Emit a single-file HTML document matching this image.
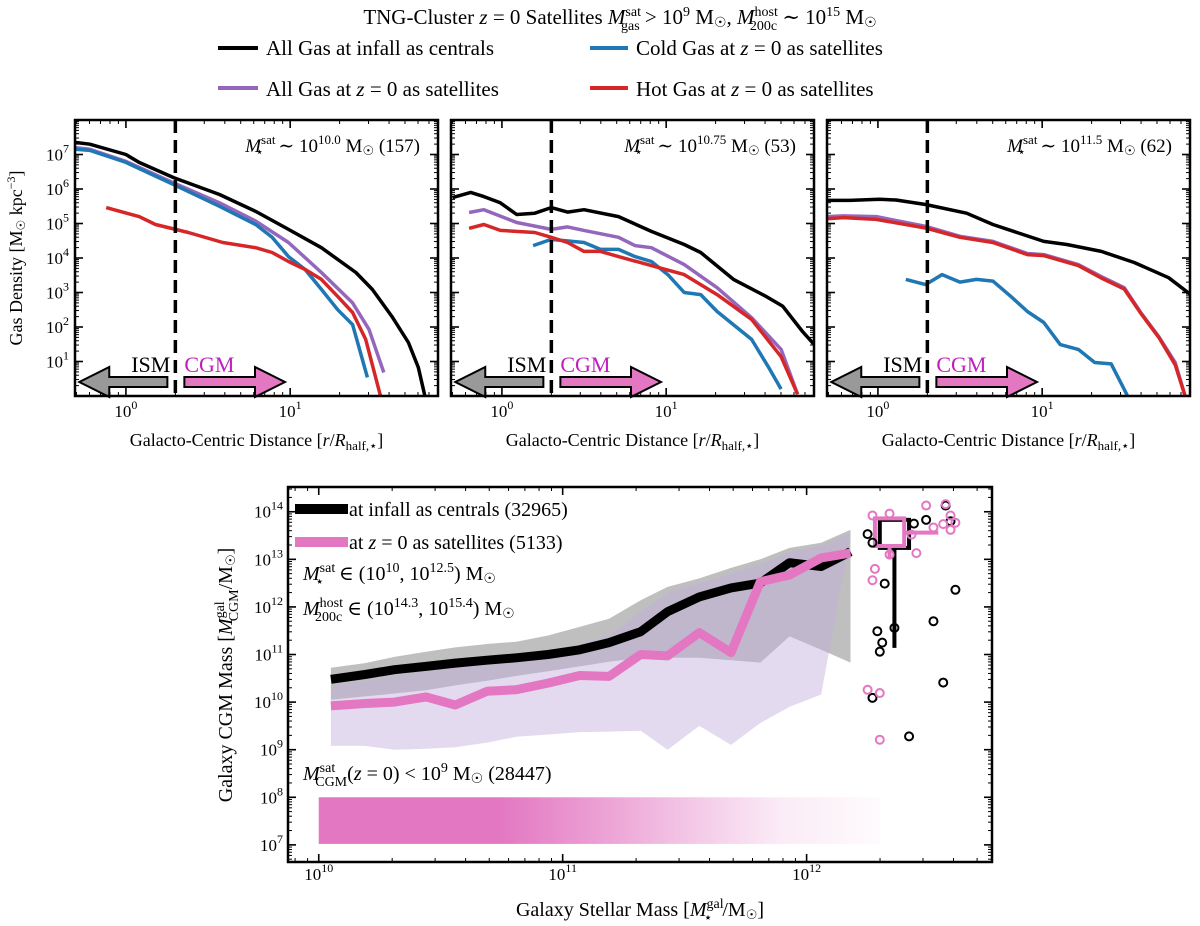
<!DOCTYPE html>
<html><head><meta charset="utf-8">
<style>
html,body{margin:0;padding:0;background:#fff;}
svg{display:block;font-family:"Liberation Serif","DejaVu Serif",serif;}
</style></head>
<body>
<svg id="fig" xmlns="http://www.w3.org/2000/svg" width="1200" height="926" viewBox="0 0 1200 926">
<rect x="0" y="0" width="1200" height="926" fill="#fff"/>
<text x="620" y="24" font-size="21" text-anchor="middle">TNG-Cluster <tspan font-style="italic">z</tspan> = 0 Satellites <tspan font-style="italic">M</tspan><tspan dy="-8" font-size="14">sat</tspan><tspan dx="-20" dy="14" font-size="14">gas</tspan><tspan dy="-6"> &gt; 10</tspan><tspan dy="-8" font-size="14">9</tspan><tspan dy="8"> M</tspan><tspan font-size="14" dy="3">☉</tspan><tspan dy="-3">,  </tspan><tspan font-style="italic">M</tspan><tspan dy="-8" font-size="14">host</tspan><tspan dx="-28" dy="14" font-size="14">200c</tspan><tspan dy="-6"> ∼ 10</tspan><tspan dy="-8" font-size="14">15</tspan><tspan dy="8"> M</tspan><tspan font-size="14" dy="3">☉</tspan></text>
<g>
<line x1="218" y1="48" x2="258" y2="48" stroke="#000" stroke-width="4"/>
<text x="266" y="55" font-size="21">All Gas at infall as centrals</text>
<line x1="590" y1="48" x2="628" y2="48" stroke="#1f77b4" stroke-width="4"/>
<text x="636" y="55" font-size="21">Cold Gas at <tspan font-style="italic">z</tspan> = 0 as satellites</text>
<line x1="218" y1="88" x2="258" y2="88" stroke="#9467bd" stroke-width="4"/>
<text x="266" y="96" font-size="21">All Gas at <tspan font-style="italic">z</tspan> = 0 as satellites</text>
<line x1="590" y1="88" x2="628" y2="88" stroke="#d62728" stroke-width="4"/>
<text x="636" y="96" font-size="21">Hot Gas at <tspan font-style="italic">z</tspan> = 0 as satellites</text>
</g>
<text transform="translate(22,258) rotate(-90)" font-size="18" text-anchor="middle">Gas Density [M<tspan font-size="12" dy="3">☉</tspan><tspan dy="-3"> kpc</tspan><tspan dy="-7" font-size="12">−3</tspan><tspan dy="7">]</tspan></text>
<text transform="translate(232,675) rotate(-90)" font-size="20" text-anchor="middle">Galaxy CGM Mass [<tspan font-style="italic">M</tspan><tspan dy="-8" font-size="14">gal</tspan><tspan dx="-20" dy="14" font-size="14">CGM</tspan><tspan dy="-6">/M</tspan><tspan font-size="13" dy="3">☉</tspan><tspan dy="-3">]</tspan></text>
<text x="640" y="916" font-size="20" text-anchor="middle">Galaxy Stellar Mass [<tspan font-style="italic">M</tspan><tspan dy="-8" font-size="14">gal</tspan><tspan dx="-20" dy="14" font-size="14">⋆</tspan><tspan dx="10" dy="-6">/M</tspan><tspan font-size="13" dy="3">☉</tspan><tspan dy="-3">]</tspan></text>
<g id="topg"></g>
<g id="botg"></g>
</svg>
<script>
// ---------- TOP PANEL DATA (log10 r/R_half, log10 density) ----------
const p1BlackLogR=[-0.31,-0.22,0,0.08,0.29,0.57,0.79,0.99,1.19,1.4,1.5,1.62,1.72,1.78,1.82];
const p1BlackLogRho=[7.35,7.3,7.0,6.77,6.33,5.84,5.35,4.83,4.3,3.58,3.09,2.3,1.55,0.83,0.0];
const p1PurpleLogR=[-0.31,-0.22,0,0.29,0.57,0.79,0.99,1.19,1.38,1.48,1.57];
const p1PurpleLogRho=[7.2,7.15,6.8,6.18,5.6,5.07,4.45,3.58,2.7,1.93,0.68];
const p1BlueLogR=[-0.31,-0.22,0,0.29,0.57,0.79,0.89,0.99,1.09,1.19,1.29,1.38,1.47];
const p1BlueLogRho=[7.15,7.12,6.77,6.13,5.5,4.97,4.6,4.04,3.67,3.09,2.5,2.07,0.54];
const p1RedLogR=[-0.12,0.08,0.18,0.38,0.59,0.79,0.89,0.99,1.09,1.19,1.29,1.38,1.46,1.55];
const p1RedLogRho=[5.46,5.2,4.97,4.74,4.45,4.3,4.16,3.9,3.67,3.38,2.88,2.42,1.64,0];

const p2BlackLogR=[-0.3,-0.19,-0.11,-0.01,0.09,0.2,0.3,0.4,0.5,0.71,0.91,1.11,1.21,1.41,1.61,1.71,1.83,1.9];
const p2BlackLogRho=[5.75,5.9,5.78,5.6,5.26,5.3,5.46,5.33,5.4,5.2,4.77,4.39,4.16,3.38,2.88,2.6,1.87,1.5];
const p2PurpleLogR=[-0.2,-0.11,0.09,0.3,0.4,0.5,0.71,0.81,0.91,1.11,1.31,1.52,1.7,1.8];
const p2PurpleLogRho=[5.32,5.4,5.03,4.83,4.9,4.8,4.6,4.36,4.3,3.81,3.14,2.27,1.35,0.05];
const p2BlueLogR=[0.19,0.3,0.5,0.6,0.71,0.81,0.91,1.01,1.11,1.21,1.31,1.52,1.62,1.7];
const p2BlueLogRho=[4.36,4.54,4.45,4.25,4.25,4.04,3.9,3.52,3.0,2.94,2.45,1.64,0.86,0.2];
const p2RedLogR=[-0.2,-0.11,-0.01,0.2,0.3,0.4,0.5,0.6,0.71,0.91,1.11,1.31,1.52,1.7,1.8];
const p2RedLogRho=[4.86,4.97,4.8,4.74,4.6,4.45,4.19,4.19,4.04,3.78,3.52,2.94,2.22,1.14,0.05];

const p3BlackLogR=[-0.31,-0.17,0.01,0.11,0.29,0.54,0.7,1.01,1.15,1.36,1.56,1.77,1.92];
const p3BlackLogRho=[5.67,5.67,5.7,5.68,5.55,5.3,4.97,4.48,4.39,4.19,3.87,3.43,2.88];
const p3PurpleLogR=[-0.31,-0.21,-0.01,0.29,0.5,0.7,0.91,1.01,1.22,1.36,1.5,1.6,1.71,1.81,1.87];
const p3PurpleLogRho=[5.2,5.22,5.2,4.92,4.63,4.48,4.13,4.1,3.81,3.46,3.14,2.42,1.72,0.97,0];
const p3BlueLogR=[0.17,0.29,0.39,0.5,0.6,0.7,0.81,0.91,1.01,1.11,1.22,1.32,1.42,1.52];
const p3BlueLogRho=[3.38,3.23,3.52,3.3,3.38,3.33,2.88,2.45,2.13,1.49,1.35,0.97,0.93,0];
const p3RedLogR=[-0.31,-0.21,-0.01,0.29,0.5,0.7,0.91,1.01,1.22,1.36,1.5,1.6,1.71,1.81,1.87];
const p3RedLogRho=[5.14,5.17,5.12,4.87,4.6,4.45,4.1,4.07,3.78,3.42,3.1,2.4,1.7,0.9,0];

const panelLabels=["10.0","10.75","11.5"];
const panelCounts=["157","53","62"];
const topYTicks=[1,2,3,4,5,6,7];
const topXTicks=[0,1];

// ---------- BOTTOM PANEL DATA (log10 M*, log10 M_CGM) ----------
const binLogM=[10.05,10.19,10.31,10.44,10.56,10.69,10.81,10.94,11.07,11.19,11.32,11.43,11.56,11.69,11.81,11.93,12.06,12.18];
const infallMedian=[10.48,10.58,10.68,10.75,10.82,10.88,10.93,11.0,11.1,11.25,11.48,11.9,12.21,12.4,12.5,12.93,12.85,13.16];
const z0Median=[9.92,9.97,10.0,10.11,9.94,10.23,10.26,10.4,10.56,10.54,11.0,10.97,11.46,11.04,12.53,12.67,13.03,13.13];
const infallUpper=[10.72,10.82,10.95,11.06,11.15,11.22,11.27,11.4,11.58,11.75,12.14,12.42,12.6,12.82,13.0,13.24,13.35,13.62];
const infallLower=[10.05,10.12,10.18,10.25,10.35,10.45,10.55,10.65,10.75,10.85,10.93,10.93,10.93,10.88,10.83,11.38,11.1,10.83];
const z0Upper=[10.35,10.45,10.55,10.65,10.75,10.85,10.95,11.05,11.2,11.4,11.9,12.3,12.5,12.7,12.9,13.15,13.3,13.55];
const z0Lower=[9.08,9.08,9.0,9.02,9.05,9.15,9.27,9.32,9.37,9.38,9.4,9.0,9.5,9.1,9.56,9.9,10.16,13.55];
const infallPtsLogM=[12.25,12.27,12.32,12.29,12.31,12.30,12.27,12.42,12.56,12.52,12.61,12.49,12.57,12.59,12.36,12.44];
const infallPtsLogC=[13.53,13.35,12.49,11.49,11.25,11.06,10.09,9.28,10.41,11.70,12.36,13.83,14.13,13.80,11.56,13.75];
const z0PtsLogM=[12.27,12.34,12.49,12.57,12.59,12.61,12.59,12.56,12.52,12.45,12.28,12.27,12.25,12.30,12.30,12.34,12.43];
const z0PtsLogC=[13.92,13.96,14.13,14.16,13.92,13.77,13.62,13.74,13.67,13.13,12.80,12.56,10.26,10.19,9.21,13.10,13.52];
// box summaries: [xLo, xHi, q1, q3, whiskerLo, whiskerHi]
const infallBox=[12.30,12.42,13.24,13.83,11.14,13.83];
const z0Box=[12.28,12.40,13.28,13.86,13.0,13.56];
const botXTicks=[10,11,12];
const botYTicks=[7,8,9,10,11,12,13,14];

const NS="http://www.w3.org/2000/svg";
function mk(tag,attrs,parent){const e=document.createElementNS(NS,tag);for(const k in attrs)e.setAttribute(k,attrs[k]);parent.appendChild(e);return e;}
const topG=document.getElementById('topg'), botG=document.getElementById('botg');
const defs=mk('defs',{},document.getElementById('fig'));

function logTicks(g,x0,x1,y0,y1,xd,yd,sx,sy){
  for(let d=Math.floor(xd[0]);d<=Math.ceil(xd[1]);d++){
    for(let m=1;m<10;m++){const v=d+Math.log10(m);if(v<xd[0]||v>xd[1])continue;
      const x=sx(v),L=m===1?8:4;
      const t1=mk('line',{x1:x,y1:y1,x2:x,y2:y1-L,stroke:'#000','stroke-width':m===1?1.6:1},g);
      
      
      const t2=mk('line',{x1:x,y1:y0,x2:x,y2:y0+L,stroke:'#000','stroke-width':m===1?1.6:1},g);
      
      
    }}
  for(let d=Math.floor(yd[0]);d<=Math.ceil(yd[1]);d++){
    for(let m=1;m<10;m++){const v=d+Math.log10(m);if(v<yd[0]||v>yd[1])continue;
      const y=sy(v),L=m===1?8:4;
      const t1=mk('line',{x1:x0,y1:y,x2:x0+L,y2:y,stroke:'#000','stroke-width':m===1?1.6:1},g);
      
      
      const t2=mk('line',{x1:x1,y1:y,x2:x1-L,y2:y,stroke:'#000','stroke-width':m===1?1.6:1},g);
      
      
    }}
}
function powLabel(g,x,y,exp,anchor,fs,name){
  const t=mk('text',{x:x,y:y,'font-size':fs,'text-anchor':anchor},g);
  
  
  t.appendChild(document.createTextNode('10'));
  const s=mk('tspan',{dy:-8,'font-size':Math.round(fs*0.7)},t);s.textContent=exp;
  return t;
}

// ---------- TOP PANELS ----------
const panels=[{x0:75,x1:438},{x0:451,x1:814},{x0:827,x1:1190}];
const PY0=120,PY1=396, XD=[-0.31,1.9], YD=[0,8];
const series=[
 [[p1BlackLogR,p1BlackLogRho],[p1PurpleLogR,p1PurpleLogRho],[p1BlueLogR,p1BlueLogRho],[p1RedLogR,p1RedLogRho]],
 [[p2BlackLogR,p2BlackLogRho],[p2PurpleLogR,p2PurpleLogRho],[p2BlueLogR,p2BlueLogRho],[p2RedLogR,p2RedLogRho]],
 [[p3BlackLogR,p3BlackLogRho],[p3PurpleLogR,p3PurpleLogRho],[p3BlueLogR,p3BlueLogRho],[p3RedLogR,p3RedLogRho]]];
const colors=['#000','#9467bd','#1f77b4','#d62728'];
const snames=['all-gas-infall','all-gas-z0','cold-gas-z0','hot-gas-z0'];
panels.forEach((p,i)=>{
  const g=mk('g',{},topG);
  
  
  const sx=v=>p.x0+(v-XD[0])/(XD[1]-XD[0])*(p.x1-p.x0);
  const sy=v=>PY1-(v-YD[0])/(YD[1]-YD[0])*(PY1-PY0);
  const cp=mk('clipPath',{id:'cp'+i},defs);
  mk('rect',{x:p.x0,y:PY0,width:p.x1-p.x0,height:PY1-PY0},cp);
  const lines=mk('g',{'clip-path':'url(#cp'+i+')'},g);
  series[i].forEach((s,j)=>{
    const pts=s[0].map((r,k)=>sx(r).toFixed(1)+','+sy(s[1][k]).toFixed(1)).join(' ');
    const pl=mk('polyline',{points:pts,fill:'none',stroke:colors[j],'stroke-width':3.5,'stroke-linejoin':'round'},lines);
    
    
  });
  const dx=sx(Math.log10(2));
  const dl=mk('line',{x1:dx,y1:PY0,x2:dx,y2:PY1,stroke:'#000','stroke-width':3.5,'stroke-dasharray':'13,7'},g);
  
  
  const ay=382, tipL=sx(Math.log10(0.52)), tipR=sx(Math.log10(9.3));
  const ga=mk('polygon',{points:`${dx-8},${ay-5} ${tipL+30},${ay-5} ${tipL+30},${ay-15} ${tipL},${ay} ${tipL+30},${ay+15} ${tipL+30},${ay+5} ${dx-8},${ay+5}`,fill:'#999',stroke:'#000','stroke-width':2},g);
  
  
  const pa=mk('polygon',{points:`${dx+9},${ay-5} ${tipR-30},${ay-5} ${tipR-30},${ay-15} ${tipR},${ay} ${tipR-30},${ay+15} ${tipR-30},${ay+5} ${dx+9},${ay+5}`,fill:'#e377c2',stroke:'#000','stroke-width':2},g);
  
  
  const it=mk('text',{x:dx-5,y:372,'font-size':22,'text-anchor':'end'},g);it.textContent='ISM';
  
  
  const ct=mk('text',{x:dx+9,y:372,'font-size':22,fill:'#bf1fbf'},g);ct.textContent='CGM';
  
  
  logTicks(g,p.x0,p.x1,PY0,PY1,XD,YD,sx,sy);
  const fr=mk('rect',{x:p.x0,y:PY0,width:p.x1-p.x0,height:PY1-PY0,fill:'none',stroke:'#000','stroke-width':2.5},g);
  
  
  topXTicks.forEach(e=>powLabel(g,sx(e),417,e,'middle',17,'x-tick-label'));
  if(i===0) topYTicks.forEach(e=>powLabel(g,p.x0-6,sy(e)+6,e,'end',17,'y-tick-label'));
  const xt=mk('text',{x:(p.x0+p.x1)/2,y:446,'font-size':18,'text-anchor':'middle'},g);
  
  
  xt.innerHTML='Galacto-Centric Distance [<tspan font-style="italic">r</tspan>/<tspan font-style="italic">R</tspan><tspan font-size="13" dy="4">half,⋆</tspan><tspan dy="-4">]</tspan>';
  const an=mk('text',{x:p.x1-18,y:152,'font-size':19,'text-anchor':'end'},g);
  
  
  an.innerHTML='<tspan font-style="italic">M</tspan><tspan dy="-8" font-size="13">sat</tspan><tspan dx="-20" dy="12" font-size="13">⋆</tspan><tspan dx="10" dy="-4"> ∼ 10</tspan><tspan dy="-8" font-size="13">'+panelLabels[i]+'</tspan><tspan dy="8"> M</tspan><tspan font-size="13" dy="3">☉</tspan><tspan dy="-3"> ('+panelCounts[i]+')</tspan>';
});

// ---------- BOTTOM PANEL ----------
const BX0=288,BX1=992,BY0=487,BY1=862;
const bxd=[9.874,12.76], byd=[6.64,14.52];
const bsx=v=>BX0+(v-bxd[0])/(bxd[1]-bxd[0])*(BX1-BX0);
const bsy=v=>BY1-(v-byd[0])/(byd[1]-byd[0])*(BY1-BY0);
const bg=mk('g',{},botG);


function band(up,lo,fill,op,name){
  const pts=binLogM.map((m,k)=>bsx(m).toFixed(1)+','+bsy(up[k]).toFixed(1)).concat(binLogM.slice().reverse().map((m,k)=>bsx(m).toFixed(1)+','+bsy(lo[lo.length-1-k]).toFixed(1))).join(' ');
  const e=mk('polygon',{points:pts,fill:fill,'fill-opacity':op},bg);
  
  
}
band(infallUpper,infallLower,'#808080',0.5,'infall-percentile-band');
band(z0Upper,z0Lower,'#c3aedc',0.45,'z0-percentile-band');
const gr=mk('linearGradient',{id:'cloud',x1:0,x2:1,y1:0,y2:0},defs);
mk('stop',{offset:'0','stop-color':'#e377c2','stop-opacity':1},gr);
mk('stop',{offset:'0.32','stop-color':'#e377c2','stop-opacity':1},gr);
mk('stop',{offset:'0.5','stop-color':'#e377c2','stop-opacity':0.7},gr);
mk('stop',{offset:'0.68','stop-color':'#e377c2','stop-opacity':0.38},gr);
mk('stop',{offset:'0.82','stop-color':'#e377c2','stop-opacity':0.15},gr);
mk('stop',{offset:'1','stop-color':'#e377c2','stop-opacity':0.03},gr);
const cl=mk('rect',{x:bsx(10),y:bsy(8),width:bsx(12.3)-bsx(10),height:bsy(7.02)-bsy(8),fill:'url(#cloud)'},bg);


function med(arr,col,name){
  const pts=binLogM.map((m,k)=>bsx(m).toFixed(1)+','+bsy(arr[k]).toFixed(1)).join(' ');
  const e=mk('polyline',{points:pts,fill:'none',stroke:col,'stroke-width':9,'stroke-linejoin':'round'},bg);
  
  
}
med(infallMedian,'#000','infall-median-line');
med(z0Median,'#e377c2','z0-median-line');
function box(b,col,name){
  const w=mk('line',{x1:bsx((b[0]+b[1])/2),y1:bsy(b[4]),x2:bsx((b[0]+b[1])/2),y2:bsy(b[2]),stroke:col,'stroke-width':4},bg);
  
  
  const r=mk('rect',{x:bsx(b[0]),y:bsy(b[3]),width:bsx(b[1])-bsx(b[0]),height:bsy(b[2])-bsy(b[3]),fill:'none',stroke:col,'stroke-width':4},bg);
  
  
}
box(infallBox,'#000','infall');
box(z0Box,'#e377c2','z0');
const hw=mk('line',{x1:bsx(z0Box[1]),y1:bsy(z0Box[5]),x2:bsx(12.54),y2:bsy(z0Box[5]),stroke:'#e377c2','stroke-width':4},bg);


infallPtsLogM.forEach((m,k)=>{
  const c=mk('circle',{cx:bsx(m),cy:bsy(infallPtsLogC[k]),r:4,fill:'none',stroke:'#000','stroke-width':2},bg);
  
  
});
z0PtsLogM.forEach((m,k)=>{
  const c=mk('circle',{cx:bsx(m),cy:bsy(z0PtsLogC[k]),r:4,fill:'none',stroke:'#e377c2','stroke-width':2},bg);
  
  
});
logTicks(bg,BX0,BX1,BY0,BY1,bxd,byd,bsx,bsy);
const bfr=mk('rect',{x:BX0,y:BY0,width:BX1-BX0,height:BY1-BY0,fill:'none',stroke:'#000','stroke-width':2.5},bg);


botXTicks.forEach(e=>powLabel(bg,bsx(e),880,e,'middle',17,'x-tick-label'));
botYTicks.forEach(e=>powLabel(bg,BX0-5,bsy(e)+6,e,'end',17,'y-tick-label'));
const l1=mk('line',{x1:295,y1:509,x2:348,y2:509,stroke:'#000','stroke-width':10},bg);


const l2=mk('line',{x1:295,y1:542,x2:348,y2:542,stroke:'#e377c2','stroke-width':10},bg);


const lt1=mk('text',{x:349,y:516,'font-size':20},bg);lt1.textContent='at infall as centrals (32965)';


const lt2=mk('text',{x:349,y:549,'font-size':20},bg);


lt2.innerHTML='at <tspan font-style="italic">z</tspan> = 0 as satellites (5133)';
const a1=mk('text',{x:303,y:580,'font-size':20},bg);


a1.innerHTML='<tspan font-style="italic">M</tspan><tspan dy="-8" font-size="14">sat</tspan><tspan dx="-20" dy="14" font-size="14">⋆</tspan><tspan dx="10" dy="-6"> ∈ (10</tspan><tspan dy="-8" font-size="14">10</tspan><tspan dy="8">, 10</tspan><tspan dy="-8" font-size="14">12.5</tspan><tspan dy="8">) M</tspan><tspan font-size="14" dy="3">☉</tspan>';
const a2=mk('text',{x:303,y:615,'font-size':20},bg);


a2.innerHTML='<tspan font-style="italic">M</tspan><tspan dy="-8" font-size="14">host</tspan><tspan dx="-28" dy="14" font-size="14">200c</tspan><tspan dy="-6"> ∈ (10</tspan><tspan dy="-8" font-size="14">14.3</tspan><tspan dy="8">, 10</tspan><tspan dy="-8" font-size="14">15.4</tspan><tspan dy="8">) M</tspan><tspan font-size="14" dy="3">☉</tspan>';
const a3=mk('text',{x:303,y:780,'font-size':20},bg);


a3.innerHTML='<tspan font-style="italic">M</tspan><tspan dy="-8" font-size="14">sat</tspan><tspan dx="-20" dy="14" font-size="14">CGM</tspan><tspan dy="-6">(<tspan font-style="italic">z</tspan> = 0) &lt; 10</tspan><tspan dy="-8" font-size="14">9</tspan><tspan dy="8"> M</tspan><tspan font-size="14" dy="3">☉</tspan><tspan dy="-3"> (28447)</tspan>';
</script>
</body></html>
